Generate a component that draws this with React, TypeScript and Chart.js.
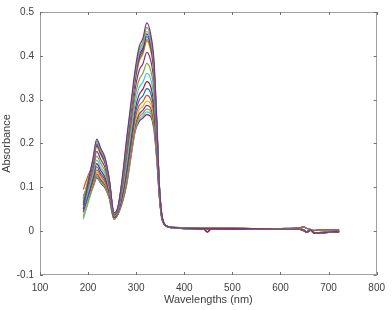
import React, { useEffect, useRef } from "react";
import { Chart, registerables } from "chart.js";

Chart.register(...registerables);

// Wavelengths (nm) of the UV region samples and of the flat baseline region
const WL_UV = [190, 200, 210, 218, 226, 236, 244, 254, 262, 272, 280, 290, 298, 306, 314, 322, 330, 337, 343, 348, 353, 358, 365, 375];
const WL_TAIL = [400, 440, 448, 456, 500, 550, 600, 640, 648, 655, 662, 670, 680, 700, 722];

// Absorbance spectra (UV part), highest to lowest main peak
const S01 = [0.050, 0.110, 0.165, 0.210, 0.190, 0.165, 0.120, 0.042, 0.055, 0.130, 0.210, 0.300, 0.370, 0.420, 0.440, 0.475, 0.450, 0.390, 0.250, 0.110, 0.040, 0.018, 0.011, 0.009];
const S02 = [0.070, 0.117, 0.162, 0.206, 0.186, 0.162, 0.118, 0.041, 0.054, 0.127, 0.205, 0.294, 0.363, 0.412, 0.431, 0.465, 0.441, 0.382, 0.246, 0.109, 0.040, 0.018, 0.011, 0.009];
const S03 = [0.076, 0.115, 0.159, 0.202, 0.183, 0.159, 0.116, 0.041, 0.054, 0.124, 0.201, 0.289, 0.357, 0.405, 0.424, 0.456, 0.433, 0.376, 0.242, 0.107, 0.039, 0.018, 0.011, 0.009];
const S04 = [0.074, 0.113, 0.157, 0.199, 0.180, 0.157, 0.115, 0.040, 0.053, 0.123, 0.197, 0.285, 0.353, 0.400, 0.418, 0.450, 0.427, 0.371, 0.239, 0.106, 0.039, 0.018, 0.011, 0.009];
const S05 = [0.060, 0.108, 0.155, 0.197, 0.178, 0.155, 0.113, 0.040, 0.052, 0.121, 0.194, 0.281, 0.349, 0.395, 0.413, 0.444, 0.422, 0.366, 0.237, 0.106, 0.039, 0.018, 0.011, 0.009];
const S06 = [0.095, 0.127, 0.153, 0.194, 0.176, 0.153, 0.112, 0.039, 0.052, 0.119, 0.191, 0.278, 0.344, 0.389, 0.407, 0.437, 0.416, 0.361, 0.234, 0.105, 0.038, 0.018, 0.011, 0.009];
const S07 = [0.055, 0.105, 0.152, 0.192, 0.174, 0.151, 0.111, 0.039, 0.052, 0.118, 0.189, 0.275, 0.342, 0.386, 0.404, 0.433, 0.412, 0.358, 0.232, 0.104, 0.038, 0.018, 0.011, 0.009];
const S08 = [0.064, 0.102, 0.144, 0.182, 0.164, 0.143, 0.106, 0.037, 0.050, 0.110, 0.176, 0.260, 0.325, 0.366, 0.382, 0.408, 0.390, 0.339, 0.221, 0.100, 0.037, 0.017, 0.011, 0.009];
const S09 = [0.068, 0.098, 0.136, 0.171, 0.155, 0.135, 0.100, 0.035, 0.048, 0.103, 0.164, 0.245, 0.308, 0.345, 0.360, 0.383, 0.367, 0.320, 0.210, 0.097, 0.036, 0.017, 0.011, 0.009];
const S10 = [0.053, 0.090, 0.128, 0.162, 0.146, 0.128, 0.095, 0.034, 0.046, 0.096, 0.152, 0.231, 0.292, 0.327, 0.340, 0.360, 0.347, 0.302, 0.200, 0.094, 0.035, 0.017, 0.010, 0.008];
const S11 = [0.060, 0.087, 0.122, 0.154, 0.139, 0.121, 0.091, 0.032, 0.044, 0.090, 0.143, 0.220, 0.279, 0.311, 0.324, 0.341, 0.330, 0.288, 0.192, 0.091, 0.034, 0.017, 0.010, 0.008];
const S12 = [0.044, 0.080, 0.117, 0.147, 0.132, 0.116, 0.088, 0.031, 0.043, 0.085, 0.134, 0.210, 0.268, 0.298, 0.309, 0.325, 0.315, 0.275, 0.185, 0.088, 0.033, 0.017, 0.010, 0.008];
const S13 = [0.050, 0.079, 0.112, 0.140, 0.127, 0.111, 0.084, 0.030, 0.042, 0.081, 0.127, 0.201, 0.258, 0.286, 0.296, 0.310, 0.301, 0.264, 0.179, 0.086, 0.032, 0.016, 0.010, 0.008];
const S14 = [0.038, 0.073, 0.108, 0.135, 0.122, 0.107, 0.082, 0.029, 0.041, 0.077, 0.121, 0.194, 0.249, 0.276, 0.285, 0.297, 0.290, 0.254, 0.174, 0.085, 0.032, 0.016, 0.010, 0.008];
const S15 = [0.045, 0.073, 0.105, 0.131, 0.118, 0.104, 0.080, 0.029, 0.040, 0.074, 0.116, 0.188, 0.242, 0.267, 0.276, 0.287, 0.281, 0.246, 0.169, 0.083, 0.031, 0.016, 0.010, 0.008];
const S16 = [0.033, 0.068, 0.102, 0.127, 0.115, 0.101, 0.078, 0.028, 0.039, 0.072, 0.111, 0.183, 0.237, 0.260, 0.269, 0.279, 0.273, 0.240, 0.165, 0.082, 0.031, 0.016, 0.010, 0.008];
const S17 = [0.027, 0.064, 0.100, 0.125, 0.112, 0.099, 0.076, 0.027, 0.039, 0.070, 0.108, 0.179, 0.232, 0.255, 0.263, 0.272, 0.268, 0.235, 0.163, 0.081, 0.030, 0.016, 0.010, 0.008];
const S18 = [0.082, 0.090, 0.100, 0.122, 0.110, 0.097, 0.075, 0.027, 0.038, 0.068, 0.105, 0.175, 0.228, 0.250, 0.258, 0.266, 0.262, 0.230, 0.160, 0.080, 0.030, 0.016, 0.010, 0.008];

// Baseline (visible region) variants
const TAIL_A = [0.007, 0.006, 0.006, 0.006, 0.006, 0.006, 0.005, 0.005, 0.002, -0.002, 0.003, -0.003, -0.004, -0.002, 0.000];
const TAIL_B = [0.006, 0.005, 0.004, 0.005, 0.004, 0.005, 0.006, 0.008, 0.010, 0.006, 0.004, 0.002, 0.003, 0.003, 0.003];
const TAIL_C = [0.008, 0.007, 0.007, 0.007, 0.007, 0.006, 0.006, 0.006, 0.003, -0.001, 0.003, -0.004, -0.003, -0.002, -0.001];
const TAIL_D = [0.006, 0.005, -0.002, 0.005, 0.004, 0.005, 0.004, 0.004, 0.001, -0.003, 0.002, -0.005, -0.005, -0.003, -0.002];

const SPECTRA = [S01, S02, S03, S04, S05, S06, S07, S08, S09, S10, S11, S12, S13, S14, S15, S16, S17, S18];
const TAILS = [TAIL_A, TAIL_C, TAIL_A, TAIL_D, TAIL_A, TAIL_B, TAIL_A, TAIL_C, TAIL_A, TAIL_D, TAIL_A, TAIL_B, TAIL_A, TAIL_C, TAIL_A, TAIL_D, TAIL_B, TAIL_C];

const PALETTE = ["#0072BD", "#D95319", "#EDB120", "#7E2F8E", "#77AC30", "#4DBEEE", "#A2142F"];

const X_TICKS = [100, 200, 300, 400, 500, 600, 700, 800];
const Y_TICKS = [-0.1, 0, 0.1, 0.2, 0.3, 0.4, 0.5];

const FONT = "'Liberation Sans', Arial, sans-serif";

const boxPlugin = {
  id: "matlabBox",
  afterDraw(chart: any) {
    const { ctx, chartArea: a, scales } = chart;
    const x = scales.x;
    const y = scales.y;
    ctx.save();
    ctx.lineWidth = 1;
    ctx.strokeStyle = "#a0a0a0";
    ctx.strokeRect(Math.round(a.left) + 0.5, Math.round(a.top) + 0.5, Math.round(a.width) - 1, Math.round(a.height) - 1);
    ctx.strokeStyle = "#707070";
    ctx.beginPath();
    x.ticks.forEach((t: any) => {
      const px = Math.round(x.getPixelForValue(t.value)) + 0.5;
      ctx.moveTo(px, a.bottom);
      ctx.lineTo(px, a.bottom - 3);
      ctx.moveTo(px, a.top);
      ctx.lineTo(px, a.top + 3);
    });
    y.ticks.forEach((t: any) => {
      const py = Math.round(y.getPixelForValue(t.value)) + 0.5;
      ctx.moveTo(a.left, py);
      ctx.lineTo(a.left + 3, py);
      ctx.moveTo(a.right, py);
      ctx.lineTo(a.right - 3, py);
    });
    ctx.stroke();
    ctx.restore();
  },
};

export default function App() {
  const ref = useRef<HTMLCanvasElement>(null);

  useEffect(() => {
    if (!ref.current) return;
    const datasets = SPECTRA.map((s, i) => {
      const pts = WL_UV.map((w, j) => ({ x: w, y: s[j] })).concat(
        WL_TAIL.map((w, j) => ({ x: w, y: TAILS[i][j] }))
      );
      return {
        label: `S${i + 1}`,
        data: pts,
        borderColor: PALETTE[(i + 3) % PALETTE.length],
        borderWidth: 1.2,
        pointRadius: 0,
        fill: false,
        cubicInterpolationMode: "monotone" as const,
      };
    });

    const chart = new Chart(ref.current, {
      type: "line",
      data: { datasets },
      options: {
        animation: false,
        responsive: true,
        maintainAspectRatio: false,
        layout: { padding: { top: 6, right: 12, left: 0, bottom: 0 } },
        plugins: { legend: { display: false }, tooltip: { enabled: false } },
        scales: {
          x: {
            type: "linear",
            min: 100,
            max: 800,
            afterBuildTicks: (s: any) => {
              s.ticks = X_TICKS.map((v) => ({ value: v }));
            },
            afterFit: (s: any) => {
              s.height = 35;
            },
            grid: { display: false, drawTicks: false },
            border: { display: false },
            ticks: { color: "#404040", font: { family: FONT, size: 10 }, padding: 7, maxRotation: 0 },
            title: { display: true, text: "Wavelengths (nm)", color: "#404040", font: { family: FONT, size: 11 }, padding: { top: 2, bottom: 3 } },
          },
          y: {
            type: "linear",
            min: -0.1,
            max: 0.5,
            afterBuildTicks: (s: any) => {
              s.ticks = Y_TICKS.map((v) => ({ value: v }));
            },
            afterFit: (s: any) => {
              s.width = 40;
            },
            grid: { display: false, drawTicks: false },
            border: { display: false },
            ticks: {
              color: "#404040",
              font: { family: FONT, size: 10 },
              padding: 6,
              callback: (v: any) => `${+Number(v).toFixed(1)}`,
            },
            title: { display: true, text: "Absorbance", color: "#404040", font: { family: FONT, size: 11 }, padding: { top: 0, bottom: 0 } },
          },
        },
      },
      plugins: [boxPlugin],
    });
    return () => chart.destroy();
  }, []);

  return (
    <div style={{ position: "fixed", left: 0, top: 0, width: 392, height: 310, background: "#fff" }}>
      <canvas ref={ref} />
    </div>
  );
}
